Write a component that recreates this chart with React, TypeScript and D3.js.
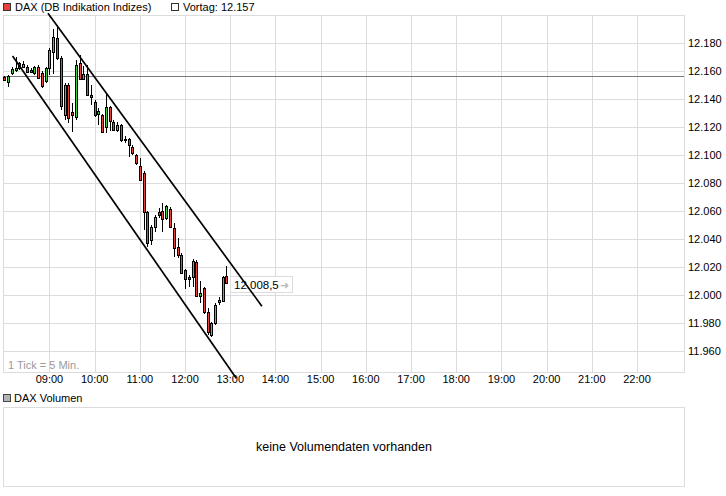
import React from "react";
import * as d3 from "d3";

// ---- data ----
const candleTimes = Array.from({ length: 60 }, (_, i) => {
  const m = 480 + i * 5;
  return `${String(Math.floor(m / 60)).padStart(2, "0")}:${String(m % 60).padStart(2, "0")}`;
});
const openVals = [12155.7, 12152.5, 12158.5, 12160.4, 12165.7, 12163.0, 12163.3, 12160.9, 12158.5, 12163.3,
  12158.5, 12152.5, 12162.1, 12173.3, 12183.6, 12169.3, 12128.7, 12150.2, 12130.8, 12127.5,
  12165.7, 12154.2, 12158.0, 12143.0, 12138.2, 12129.9, 12128.7, 12120.3, 12134.2, 12123.9,
  12117.9, 12121.5, 12111.3, 12111.3, 12106.0, 12100.0, 12092.2, 12087.4, 12059.0, 12039.2,
  12048.3, 12059.4, 12060.2, 12054.7, 12061.4, 12047.6, 12034.0, 12028.5, 12017.7, 12012.5,
  12012.9, 12023.7, 11999.1, 12004.6, 11987.9, 11971.2, 11979.6, 11995.0, 11995.0, 12013.4];
const highVals = [12156.6, 12157.3, 12162.8, 12170.0, 12166.8, 12167.3, 12164.5, 12162.3, 12163.8, 12164.5,
  12160.2, 12163.3, 12176.6, 12190.0, 12191.9, 12170.9, 12151.6, 12151.6, 12137.3, 12168.0,
  12171.6, 12163.8, 12164.5, 12150.2, 12139.4, 12133.7, 12129.4, 12144.2, 12135.1, 12125.1,
  12123.9, 12122.2, 12113.6, 12112.2, 12107.2, 12100.8, 12097.9, 12088.6, 12060.0, 12049.9,
  12057.1, 12062.3, 12065.5, 12064.2, 12062.8, 12051.2, 12040.4, 12029.9, 12018.4, 12014.1,
  12025.4, 12024.9, 12010.1, 12005.8, 11990.5, 11980.7, 11993.9, 11998.6, 12013.4, 12020.6];
const lowVals = [12153.0, 12148.9, 12157.3, 12159.5, 12160.9, 12162.3, 12158.7, 12158.7, 12157.3, 12155.2,
  12148.0, 12151.6, 12157.3, 12158.0, 12168.0, 12132.3, 12125.1, 12122.7, 12116.5, 12125.1,
  12153.7, 12153.7, 12142.3, 12135.8, 12127.2, 12121.5, 12116.5, 12115.8, 12117.2, 12117.2,
  12116.7, 12109.6, 12108.4, 12098.8, 12100.0, 12092.9, 12081.4, 12046.4, 12034.4, 12035.6,
  12045.1, 12054.9, 12045.1, 12053.5, 12047.6, 12027.3, 12026.1, 12014.9, 12004.0, 12005.8,
  12005.8, 11998.4, 11993.9, 11986.2, 11971.2, 11970.0, 11978.4, 11992.7, 11994.8, 12007.9];
const closeVals = [12153.7, 12156.6, 12161.4, 12162.1, 12162.1, 12165.2, 12159.7, 12159.8, 12162.8, 12155.7,
  12149.4, 12162.1, 12175.2, 12184.3, 12169.3, 12135.1, 12150.2, 12126.3, 12128.6, 12164.5,
  12154.2, 12158.0, 12143.0, 12141.6, 12128.7, 12131.8, 12116.7, 12134.4, 12123.9, 12117.9,
  12121.5, 12110.8, 12110.3, 12107.2, 12101.7, 12094.1, 12082.1, 12059.5, 12036.8, 12048.7,
  12055.5, 12057.0, 12054.7, 12063.5, 12048.3, 12033.3, 12028.5, 12015.4, 12011.1, 12011.1,
  12024.4, 11999.1, 12001.0, 11987.2, 11973.6, 11979.6, 11992.7, 11996.2, 12012.5, 12008.5];

const yTicks = [11960, 11980, 12000, 12020, 12040, 12060, 12080, 12100, 12120, 12140, 12160, 12180];
const yTickLabels = ["11.960", "11.980", "12.000", "12.020", "12.040", "12.060", "12.080", "12.100", "12.120", "12.140", "12.160", "12.180"];
const xTickLabels = ["09:00", "10:00", "11:00", "12:00", "13:00", "14:00", "15:00", "16:00", "17:00", "18:00", "19:00", "20:00", "21:00", "22:00"];

const prevClose = 12157;
const lastPriceLabel = "12.008,5";
const upperChannelTimes = ["08:58", "13:42"];
const upperChannelPrices = [12201.5, 11991.9];
const lowerChannelTimes = ["08:11", "13:08"];
const lowerChannelPrices = [12170.9, 11940.4];

const toMin = (s: string) => {
  const [h, m] = s.split(":").map(Number);
  return h * 60 + m;
};

const FONT = "'Liberation Sans', Arial, sans-serif";

export default function App() {
  const left = 3, right = 684, top = 15, bottom = 372;
  const x = d3.scaleLinear().domain([478.3, 1382.4]).range([left, right]);
  const y = d3.scaleLinear().domain([11944.8, 12200.3]).range([bottom, top]);

  const candles = candleTimes.map((t, i) => ({
    t: toMin(t), o: openVals[i], h: highVals[i], l: lowVals[i], c: closeVals[i],
  }));
  const line = d3.line<[number, number]>().x((d) => x(d[0])).y((d) => y(d[1]));
  const upper = line(upperChannelTimes.map((t, i) => [toMin(t), upperChannelPrices[i]]));
  const lower = line(lowerChannelTimes.map((t, i) => [toMin(t), lowerChannelPrices[i]]));

  const last = candles[candles.length - 1];
  const lx = Math.round(x(last.t)) + 4;
  const ly = Math.round(y(last.c));

  const grid = "#dcdcdc";
  return (
    <svg width={726} height={496} style={{ position: "absolute", left: 0, top: 0, background: "#fff" }}
      fontFamily={FONT} fontSize={11}>
      <rect x={0} y={0} width={726} height={496} fill="#fff" />
      {/* legend */}
      <rect x={3.5} y={3.5} width={7} height={7} fill="#e8413c" stroke="#333" />
      <text x={15} y={11} fill="#000">DAX (DB Indikation Indizes)</text>
      <rect x={171.5} y={3.5} width={7} height={7} fill="#fff" stroke="#333" />
      <text x={183} y={11} fill="#000">Vortag: 12.157</text>

      {/* grid */}
      <g shapeRendering="crispEdges">
        {yTicks.map((v) => (
          <line key={v} x1={left} x2={right} y1={Math.round(y(v)) + 0.5} y2={Math.round(y(v)) + 0.5} stroke={grid} />
        ))}
        {xTickLabels.map((s) => (
          <line key={s} x1={Math.round(x(toMin(s))) + 0.5} x2={Math.round(x(toMin(s))) + 0.5} y1={top} y2={bottom} stroke={grid} />
        ))}
        <rect x={left + 0.5} y={top + 0.5} width={right - left} height={bottom - top} fill="none" stroke={grid} />
        <line x1={left} x2={right} y1={Math.round(y(prevClose)) + 0.5} y2={Math.round(y(prevClose)) + 0.5} stroke="#7a7a7a" />
      </g>

      {/* y labels */}
      {yTicks.map((v, i) => (
        <text key={v} x={688} y={y(v) + 4} fill="#000">{yTickLabels[i]}</text>
      ))}
      {/* x labels */}
      {xTickLabels.map((s) => (
        <text key={s} x={x(toMin(s))} y={383} textAnchor="middle" fill="#000">{s}</text>
      ))}
      <text x={8} y={369} fill="#9a9a9a">1 Tick = 5 Min.</text>

      {/* candles */}
      <g shapeRendering="crispEdges">
        {candles.map((d, i) => {
          const cx = Math.round(x(d.t));
          const yo = y(d.o), yc = y(d.c);
          const up = d.c >= d.o;
          const y0 = Math.round(Math.min(yo, yc));
          const hgt = Math.max(1, Math.round(Math.abs(yo - yc)));
          return (
            <g key={i}>
              <line x1={cx + 0.5} x2={cx + 0.5} y1={Math.round(y(d.h))} y2={Math.round(y(d.l))} stroke="#000" />
              <rect x={cx - 0.5} y={y0 + 0.5} width={2} height={hgt} fill={up ? "#3dd23d" : "#e8413c"} stroke="#000" />
            </g>
          );
        })}
      </g>

      {/* last price label */}
      <rect x={lx + 0.5} y={ly - 6.5} width={62} height={16} fill="#fff" stroke="#dcdcdc" shapeRendering="crispEdges" />
      <text x={lx + 4} y={ly + 6} fill="#000" fontSize={11.5}>{lastPriceLabel}</text>
      <text x={lx + 50} y={ly + 6} fill="#bbb" fontSize={11}>➜</text>

      {/* channel lines */}
      <path d={upper || ""} stroke="#000" strokeWidth={1.7} fill="none" />
      <path d={lower || ""} stroke="#000" strokeWidth={1.7} fill="none" />

      {/* volume panel */}
      <rect x={3.5} y={394.5} width={7} height={7} fill="#b4b4b4" stroke="#444" />
      <text x={14} y={402} fill="#000">DAX Volumen</text>
      <rect x={3.5} y={407.5} width={681} height={79} fill="none" stroke={grid} shapeRendering="crispEdges" />
      <text x={344} y={451} textAnchor="middle" fill="#000" fontSize={12.5}>keine Volumendaten vorhanden</text>
    </svg>
  );
}
